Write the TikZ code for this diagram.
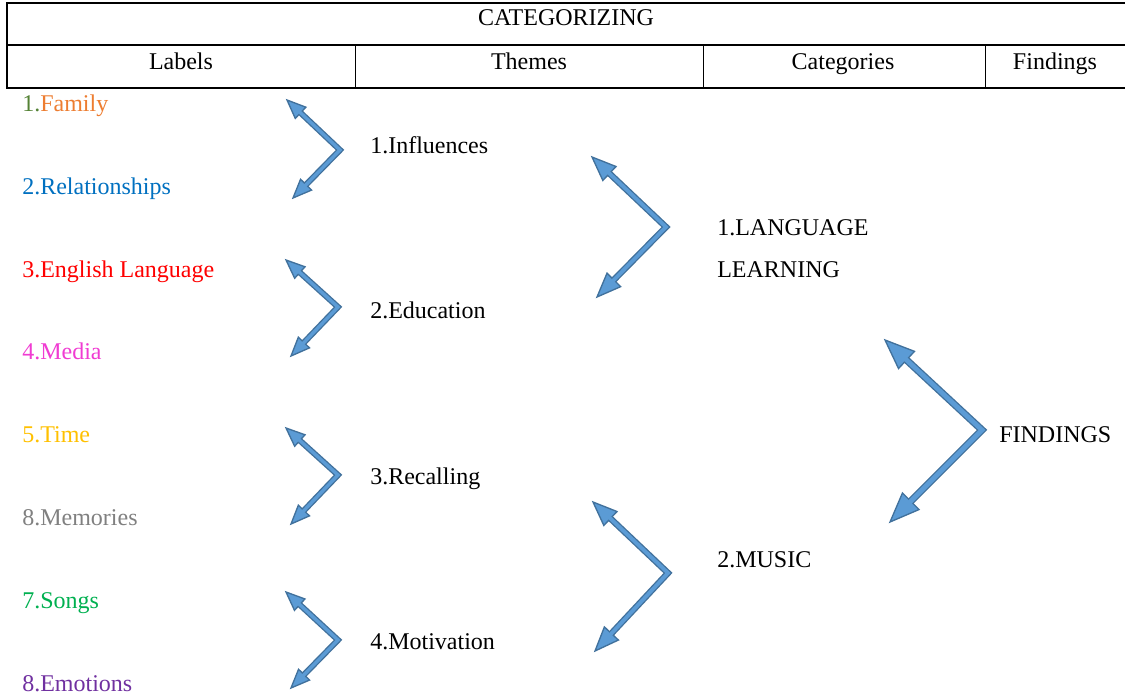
\documentclass[tikz,border=0pt]{standalone}
\usepackage{fontspec}
\setmainfont{Liberation Serif}
\usetikzlibrary{calc}
\definecolor{arrdark}{HTML}{41719C}
\definecolor{arrlight}{HTML}{5B9BD5}
\definecolor{cfamnum}{HTML}{548235}
\definecolor{cfam}{HTML}{ED7D31}
\definecolor{crel}{HTML}{0070C0}
\definecolor{ceng}{HTML}{FF0000}
\definecolor{cmed}{HTML}{F03CD2}
\definecolor{ctime}{HTML}{FFC000}
\definecolor{cmem}{HTML}{808080}
\definecolor{csong}{HTML}{00B050}
\definecolor{cemo}{HTML}{7030A0}
% #1 top tip, #2 vertex, #3 bottom tip, #4 head length, #5 head half width, #6 shaft width
\newcommand\bentarrow[6]{%
  \path ($(#1)!#4!(#2)$) coordinate (hbA) ($(#3)!#4!(#2)$) coordinate (hbB);
  \path ($(#1)!0.6*#4!(#2)$) coordinate (hiA) ($(#3)!0.6*#4!(#2)$) coordinate (hiB);
  \path ($(hbA)!#5!90:(#1)$) coordinate (cA1) ($(hbA)!#5!-90:(#1)$) coordinate (cA2);
  \path ($(hbB)!#5!90:(#3)$) coordinate (cB1) ($(hbB)!#5!-90:(#3)$) coordinate (cB2);
  \draw[draw=arrdark, line width=#6, line join=miter, miter limit=10] (hbA) -- (#2) -- (hbB);
  \draw[draw=arrdark, fill=arrlight, line width=1pt, line join=miter] (#1) -- (cA1) -- (cA2) -- cycle;
  \draw[draw=arrdark, fill=arrlight, line width=1pt, line join=miter] (#3) -- (cB1) -- (cB2) -- cycle;
  \draw[draw=arrlight, line width=#6-2pt, line join=miter, miter limit=10] (hiA) -- (#2) -- (hiB);
}
\begin{document}
\begin{tikzpicture}[x=0.75pt,y=-0.75pt,
  font=\fontsize{18pt}{21pt}\selectfont,
  lbl/.style={inner sep=0pt, anchor=base west},
  hdr/.style={inner sep=0pt, anchor=base}]
\useasboundingbox (0,0) rectangle (1125,696);
% table
\draw[line width=1.5pt] (7,3) -- (1126,3);
\draw[line width=1.5pt] (7,45) -- (1126,45);
\draw[line width=1.5pt] (7,88) -- (1126,88);
\draw[line width=1.2pt] (7,2) -- (7,89);
\draw[line width=0.75pt] (355,45) -- (355,88);
\draw[line width=0.75pt] (703,45) -- (703,88);
\draw[line width=0.75pt] (985,45) -- (985,88);
\node[hdr] (hcat) at (566,26) {CATEGORIZING};
\node[hdr] (hlab) at (181,69) {Labels};
\node[hdr] (hthe) at (529,69) {Themes};
\node[hdr] (hcateg) at (843,69) {Categories};
\node[hdr] (hfind) at (1055,69) {Findings};
% labels
\node[lbl] (l1) at (22,111) {\textcolor{cfamnum}{1.}\textcolor{cfam}{Family}};
\node[lbl, text=crel] (l2) at (22,194) {2.Relationships};
\node[lbl, text=ceng] (l3) at (22,277) {3.English Language};
\node[lbl, text=cmed] (l4) at (22,359) {4.Media};
\node[lbl, text=ctime] (l5) at (22,442) {5.Time};
\node[lbl, text=cmem] (l6) at (22,525) {8.Memories};
\node[lbl, text=csong] (l7) at (22,608) {7.Songs};
\node[lbl, text=cemo] (l8) at (22,691) {8.Emotions};
% themes
\node[lbl] (t1) at (370,153) {1.Influences};
\node[lbl] (t2) at (370,318) {2.Education};
\node[lbl] (t3) at (370,484) {3.Recalling};
\node[lbl] (t4) at (370,649) {4.Motivation};
% categories
\node[lbl] (c1) at (717,235) {1.LANGUAGE};
\node[lbl] (c1b) at (717,277) {LEARNING};
\node[lbl] (c2) at (717,567) {2.MUSIC};
\node[lbl] (f1) at (999,442) {FINDINGS};
% arrow coordinates
\coordinate (a1t) at (287,100); \coordinate (a1v) at (340,150); \coordinate (a1b) at (293,198);
\coordinate (a2t) at (286,260); \coordinate (a2v) at (338,307); \coordinate (a2b) at (291,356);
\coordinate (a3t) at (286,428); \coordinate (a3v) at (338,475); \coordinate (a3b) at (291,524);
\coordinate (a4t) at (286,592); \coordinate (a4v) at (338,640); \coordinate (a4b) at (291,688);
\coordinate (b1t) at (592,157); \coordinate (b1v) at (666,227); \coordinate (b1b) at (597,297);
\coordinate (b2t) at (593,502); \coordinate (b2v) at (668,573); \coordinate (b2b) at (595,651);
\coordinate (b3t) at (885,340); \coordinate (b3v) at (982,430); \coordinate (b3b) at (890,522);
\bentarrow{a1t}{a1v}{a1b}{14pt}{5.8pt}{4.5pt}
\bentarrow{a2t}{a2v}{a2b}{14pt}{5.8pt}{4.5pt}
\bentarrow{a3t}{a3v}{a3b}{14pt}{5.8pt}{4.5pt}
\bentarrow{a4t}{a4v}{a4b}{14pt}{5.8pt}{4.5pt}
\bentarrow{b1t}{b1v}{b1b}{18pt}{7.2pt}{4.8pt}
\bentarrow{b2t}{b2v}{b2b}{18pt}{7.2pt}{4.8pt}
\bentarrow{b3t}{b3v}{b3b}{22pt}{8.8pt}{5.5pt}
\end{tikzpicture}
\end{document}
